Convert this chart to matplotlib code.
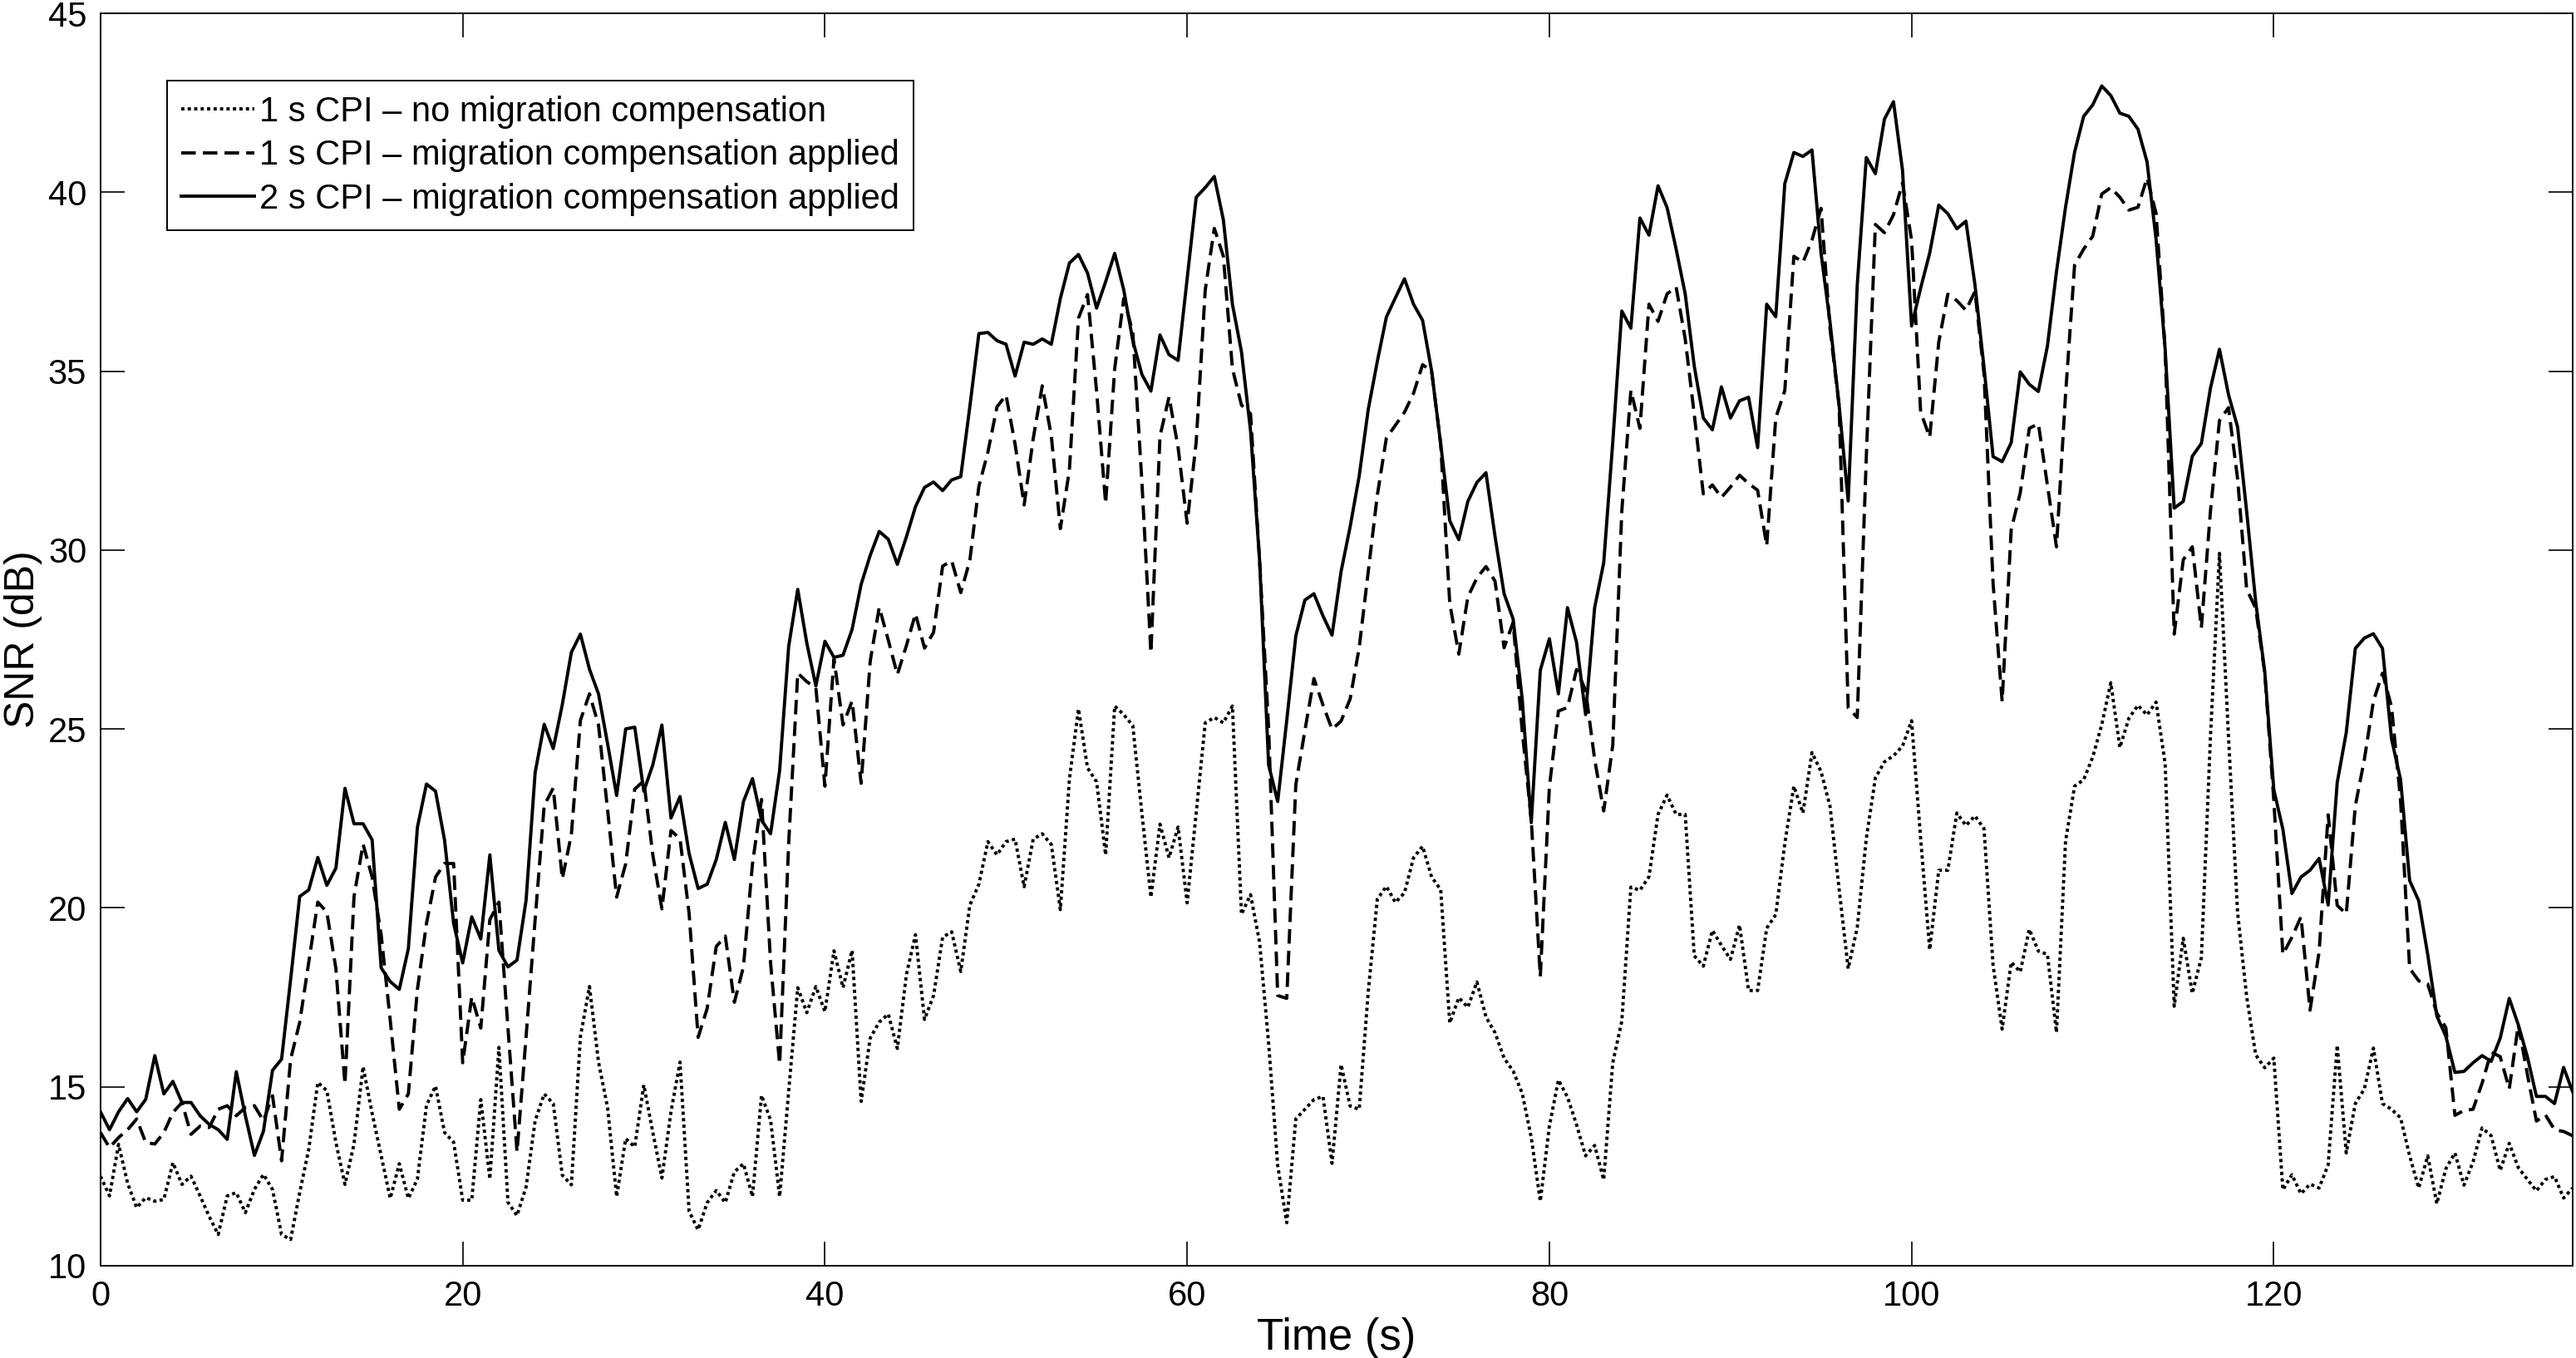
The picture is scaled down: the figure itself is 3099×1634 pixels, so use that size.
import numpy as np
import matplotlib
matplotlib.use('Agg')
import matplotlib.pyplot as plt


# SNR, one sample every 0.5 s (t = 0 ... 136.5 s)
time_s = np.arange(274) * 0.5

# 1 s CPI - no migration compensation (dotted)
snr_1s_nocomp = [
    12.5, 11.95, 13.39, 12.3, 11.62, 11.9, 11.8, 11.85, 12.88, 12.27,
    12.5, 11.95, 11.38, 10.87, 11.95, 12.04, 11.48, 12.13, 12.55, 12.13,
    10.87, 10.73, 12.04, 13.25, 15.12, 14.89, 13.44, 12.27, 13.4, 15.56,
    14.26, 13.07, 11.88, 12.85, 11.88, 12.42, 14.48, 15.02, 13.72, 13.45,
    11.83, 11.83, 14.64, 12.42, 16.1, 11.77, 11.4, 12.2, 14.05, 14.8,
    14.53, 12.53, 12.26, 16.4, 17.8, 15.69, 14.42, 11.93, 13.55, 13.32,
    15.05, 13.72, 12.45, 14.3, 15.69, 11.52, 11.0, 11.76, 12.1, 11.76,
    12.62, 12.85, 11.93, 14.76, 14.07, 11.93, 14.88, 17.77, 17.07, 17.8,
    17.1, 18.8, 17.77, 18.81, 14.59, 16.36, 16.81, 17.03, 16.07, 18.14,
    19.25, 16.88, 17.55, 19.18, 19.33, 18.22, 20.07, 20.66, 21.85, 21.48,
    21.85, 21.92, 20.59, 21.92, 22.07, 21.77, 19.95, 23.6, 25.56, 23.91,
    23.52, 21.48, 25.64, 25.4, 25.09, 22.65, 20.3, 22.34, 21.4, 22.26,
    20.14, 22.65, 25.17, 25.32, 25.17, 25.64, 19.82, 20.37, 19.04, 16.21,
    12.8, 11.2, 14.1, 14.37, 14.64, 14.73, 12.86, 15.62, 14.46, 14.37,
    17.66, 20.24, 20.6, 20.15, 20.42, 21.4, 21.72, 20.86, 20.51, 16.78,
    17.49, 17.22, 17.93, 16.95, 16.51, 15.8, 15.44, 14.82, 13.58, 11.8,
    13.9, 15.19, 14.71, 13.94, 13.07, 13.36, 12.4, 15.67, 16.83, 20.58,
    20.49, 20.87, 22.61, 23.15, 22.61, 22.61, 18.66, 18.37, 19.37, 18.95,
    18.56, 19.52, 17.69, 17.69, 19.43, 19.81, 21.8, 23.4, 22.65, 24.34,
    23.81, 22.83, 20.52, 18.3, 19.45, 21.94, 23.63, 24.08, 24.25, 24.52,
    25.23, 21.94, 18.83, 21.05, 21.05, 22.65, 22.3, 22.57, 22.21, 18.39,
    16.61, 18.48, 18.21, 19.4, 18.79, 18.7, 16.52, 21.86, 23.4, 23.58,
    24.21, 25.12, 26.29, 24.48, 25.3, 25.66, 25.39, 25.75, 24.03, 17.25,
    19.15, 17.61, 18.61, 24.76, 29.91, 24.76, 19.87, 17.52, 15.89, 15.53,
    15.8, 12.12, 12.54, 12.01, 12.28, 12.17, 12.82, 16.16, 13.15, 14.53,
    14.94, 16.08, 14.53, 14.37, 14.13, 13.07, 12.17, 13.07, 11.73, 12.71,
    13.15, 12.25, 12.9, 13.85, 13.63, 12.66, 13.42, 12.74, 12.41, 12.09,
    12.41, 12.49, 11.89, 12.17,
]

# 1 s CPI - migration compensation applied (dashed)
snr_1s_comp = [
    13.72, 13.3, 13.58, 13.8, 14.1, 13.44, 13.4, 13.72, 14.28, 14.56,
    13.67, 13.9, 13.86, 14.37, 14.47, 14.19, 14.42, 14.47, 14.05, 14.75,
    12.93, 15.77, 16.8, 18.48, 20.16, 19.88, 18.3, 15.07, 20.32, 21.78,
    20.86, 19.24, 16.86, 14.37, 14.8, 17.72, 19.56, 20.86, 21.24, 21.24,
    15.67, 17.51, 16.64, 19.67, 20.16, 16.64, 13.18, 16.4, 19.67, 22.86,
    23.35, 20.81, 22.05, 25.24, 25.98, 25.11, 22.74, 20.3, 21.23, 23.32,
    23.55, 21.47, 19.97, 22.16, 21.93, 19.85, 16.38, 17.19, 18.92, 19.21,
    17.36, 18.35, 21.23, 23.03, 18.46, 15.63, 21.81, 26.56, 26.32, 26.15,
    23.4, 26.96, 25.11, 25.78, 23.48, 26.89, 28.4, 27.48, 26.52, 27.33,
    28.22, 27.26, 27.7, 29.55, 29.7, 28.81, 29.7, 31.78, 32.74, 34.0,
    34.33, 32.96, 31.26, 33.11, 34.59, 33.19, 30.6, 32.24, 36.48, 37.14,
    34.44, 31.3, 35.07, 37.03, 36.09, 31.92, 27.13, 33.18, 34.28, 32.87,
    30.75, 33.02, 37.27, 38.99, 38.21, 35.07, 34.05, 33.81, 29.72, 25.01,
    17.55, 17.47, 23.44, 24.95, 26.41, 25.67, 24.99, 25.22, 25.84, 27.27,
    29.4, 31.53, 33.13, 33.49, 33.85, 34.38, 35.18, 35.0, 32.96, 28.51,
    27.09, 28.69, 29.22, 29.54, 29.13, 27.27, 27.98, 24.95, 22.47, 18.08,
    23.38, 25.5, 25.6, 26.66, 26.08, 24.15, 22.71, 24.54, 31.09, 34.46,
    33.4, 36.87, 36.39, 37.16, 37.35, 35.9, 33.79, 31.57, 31.82, 31.47,
    31.76, 32.09, 31.86, 31.67, 30.12, 33.69, 34.46, 38.21, 38.04, 38.66,
    39.55, 36.17, 34.03, 25.59, 25.32, 32.61, 39.1, 38.87, 39.37, 40.26,
    38.66, 33.86, 33.15, 35.81, 37.15, 36.97, 36.7, 37.23, 34.92, 29.06,
    25.77, 30.57, 31.6, 33.4, 33.53, 31.81, 30.09, 34.34, 37.96, 38.41,
    38.77, 39.95, 40.13, 39.86, 39.5, 39.58, 40.4, 39.41, 35.61, 27.65,
    29.73, 30.09, 27.83, 31.08, 33.62, 33.98, 31.99, 28.91, 28.37, 26.56,
    23.0, 18.7, 19.18, 19.75, 17.14, 18.77, 22.6, 20.07, 19.83, 22.85,
    24.15, 25.78, 26.56, 25.62, 23.0, 18.31, 17.96, 17.87, 17.06, 16.65,
    14.2, 14.34, 14.37, 15.1, 15.97, 15.84, 14.94, 16.73, 15.35, 14.04,
    14.21, 13.8, 13.75, 13.63,
]

# 2 s CPI - migration compensation applied (solid)
snr_2s_comp = [
    14.3, 13.8, 14.3, 14.67, 14.3, 14.65, 15.87, 14.8, 15.15, 14.56,
    14.56, 14.19, 13.95, 13.8, 13.53, 15.42, 14.19, 13.08, 13.76, 15.46,
    15.77, 18.0, 20.32, 20.5, 21.41, 20.63, 21.11, 23.34, 22.35, 22.35,
    21.9, 18.32, 17.94, 17.72, 18.86, 22.25, 23.46, 23.26, 21.89, 19.56,
    18.46, 19.75, 19.13, 21.48, 18.81, 18.35, 18.54, 20.21, 23.78, 25.13,
    24.45, 25.68, 27.14, 27.65, 26.67, 25.98, 24.59, 23.14, 25.0, 25.05,
    23.26, 24.0, 25.11, 22.51, 23.11, 21.52, 20.54, 20.66, 21.35, 22.39,
    21.35, 22.97, 23.61, 22.45, 22.07, 23.84, 27.31, 28.9, 27.4, 26.2,
    27.45, 27.0, 27.06, 27.78, 29.04, 29.85, 30.52, 30.3, 29.6, 30.37,
    31.21, 31.75, 31.9, 31.66, 31.96, 32.05, 34.0, 36.05, 36.08, 35.85,
    35.75, 34.86, 35.81, 35.75, 35.9, 35.75, 37.03, 38.02, 38.26, 37.74,
    36.76, 37.5, 38.29, 37.27, 35.85, 34.91, 34.44, 36.01, 35.46, 35.3,
    37.58, 39.86, 40.13, 40.44, 39.23, 36.87, 35.54, 33.34, 29.72, 23.99,
    22.97, 25.24, 27.6, 28.6, 28.78, 28.16, 27.62, 29.4, 30.65, 32.07,
    33.93, 35.27, 36.51, 37.05, 37.58, 36.87, 36.42, 35.0, 32.96, 30.82,
    30.29, 31.36, 31.89, 32.16, 30.38, 28.78, 28.07, 25.84, 22.38, 26.64,
    27.52, 25.98, 28.39, 27.42, 25.4, 28.39, 29.64, 33.01, 36.68, 36.2,
    39.28, 38.8, 40.18, 39.57, 38.41, 37.16, 35.14, 33.69, 33.36, 34.56,
    33.69, 34.17, 34.27, 32.86, 36.87, 36.52, 40.24, 41.11, 41.0, 41.18,
    38.3, 36.35, 34.03, 31.37, 37.41, 40.97, 40.52, 42.04, 42.53, 40.61,
    36.26, 37.32, 38.3, 39.64, 39.4, 38.98, 39.19, 37.41, 35.1, 32.61,
    32.47, 33.0, 34.98, 34.63, 34.43, 35.7, 37.78, 39.58, 41.12, 42.12,
    42.44, 42.97, 42.7, 42.21, 42.12, 41.76, 40.85, 38.68, 35.61, 31.17,
    31.36, 32.62, 32.98, 34.52, 35.61, 34.34, 33.44, 31.08, 28.55, 26.6,
    23.3, 22.2, 20.4, 20.86, 21.05, 21.38, 20.08, 23.5, 24.9, 27.25,
    27.54, 27.66, 27.25, 24.72, 23.58, 20.76, 20.2, 18.69, 16.98, 16.41,
    15.4, 15.43, 15.67, 15.87, 15.71, 16.36, 17.47, 16.73, 15.84, 14.73,
    14.73, 14.53, 15.54, 14.86,
]

legend_labels = [
    '1 s CPI \u2013 no migration compensation',
    '1 s CPI \u2013 migration compensation applied',
    '2 s CPI \u2013 migration compensation applied',
]

x_ticks = [0, 20, 40, 60, 80, 100, 120]
y_ticks = [10, 15, 20, 25, 30, 35, 40, 45]


def main():
    plt.rcParams['font.family'] = ['Liberation Sans', 'DejaVu Sans']

    fig = plt.figure(figsize=(15.495, 8.17), dpi=200)
    ax = fig.add_axes([0.039, 0.068, 0.9597, 0.9222])

    lw = 1.4
    ax.plot(time_s, snr_1s_nocomp, color='black', lw=lw,
            linestyle=(0, (1.0, 1.0)), label=legend_labels[0])
    ax.plot(time_s, snr_1s_comp, color='black', lw=lw,
            linestyle=(0, (4.5, 2.2)), label=legend_labels[1])
    ax.plot(time_s, snr_2s_comp, color='black', lw=lw,
            linestyle='-', label=legend_labels[2])

    ax.set_xlim(0, 136.5)
    ax.set_ylim(10, 45)
    ax.set_xticks(x_ticks)
    ax.set_yticks(y_ticks)
    ax.tick_params(direction='in', length=10.5, width=0.6, top=True, right=True,
                   labelsize=15, pad=6)
    for sp in ax.spines.values():
        sp.set_linewidth(0.7)

    ax.set_xlabel('Time (s)', fontsize=19, labelpad=2)
    ax.set_ylabel('SNR (dB)', fontsize=18)
    # anchor is the right-hand side of the rotated label
    ax.yaxis.set_label_coords(-0.0235, 0.5)

    leg = ax.legend(loc='upper left', bbox_to_anchor=(0.0269, 0.946),
                    borderaxespad=0, fontsize=15, handlelength=2.1,
                    handletextpad=0.15, labelspacing=0.3, borderpad=0.42,
                    fancybox=False, framealpha=1, edgecolor='black')
    leg.get_frame().set_linewidth(0.7)

    fig.savefig('out.png', dpi=200)
    return


if __name__ == "__main__":
    main()
